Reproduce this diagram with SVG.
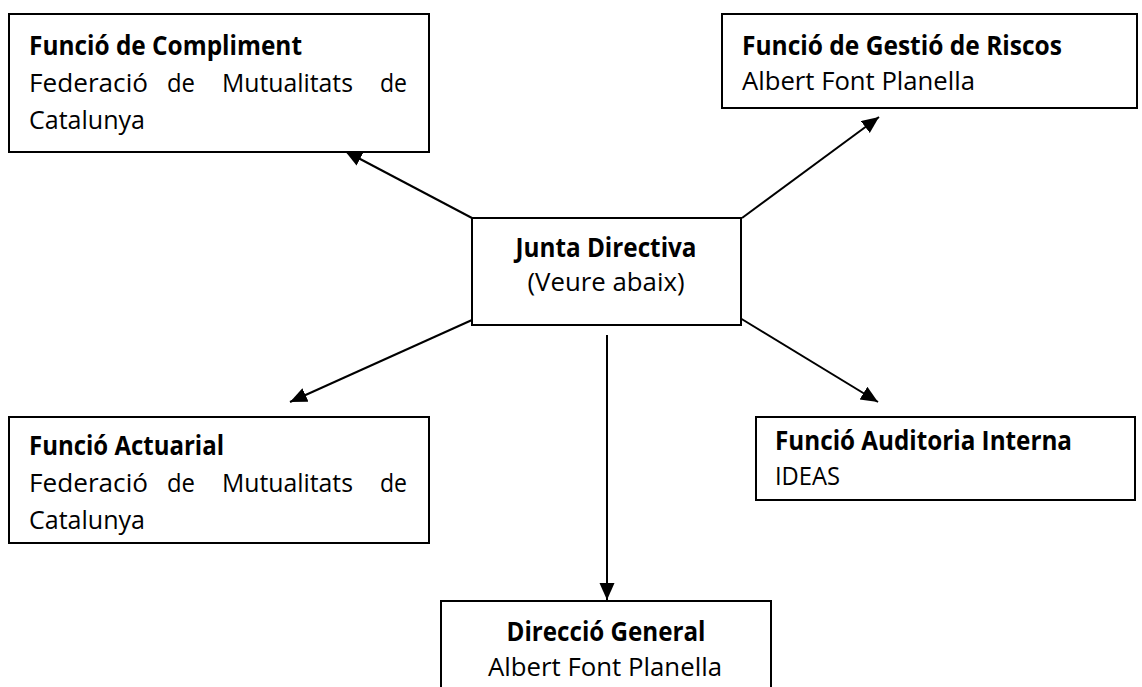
<svg xmlns="http://www.w3.org/2000/svg" width="1142" height="687" viewBox="0 0 1142 687">
<style>
.box{fill:#fff;stroke:#000;stroke-width:2}
.t{font-family:"Open Sans","Liberation Sans",sans-serif;font-size:26px;fill:#000}
.b{font-weight:bold}
.c{text-anchor:middle}
.con{stroke:#000;stroke-width:2;fill:none;marker-end:url(#ah)}
</style>
<defs>
<marker id="ah" markerUnits="userSpaceOnUse" markerWidth="18" markerHeight="16" refX="17" refY="7.5" orient="auto">
<path d="M0,0 L17,7.5 L0,15 z" fill="#000"/>
</marker>
</defs>
<rect width="1142" height="687" fill="#fff"/>
<g id="connectors">
<line class="con" x1="472" y1="218" x2="345" y2="151"/>
<line class="con" x1="742" y1="218" x2="879" y2="117"/>
<line class="con" x1="472" y1="320" x2="290" y2="402"/>
<line class="con" x1="740" y1="318" x2="878" y2="402"/>
<line class="con" x1="607" y1="335" x2="607" y2="600"/>
</g>
<g id="compliment">
<rect class="box" x="9" y="14" width="420" height="138"/>
<text class="t b" x="29" y="55" textLength="273" lengthAdjust="spacingAndGlyphs">Funció de Compliment</text>
<text class="t" y="92"><tspan x="29" textLength="119" lengthAdjust="spacingAndGlyphs">Federació</tspan><tspan x="167" textLength="28" lengthAdjust="spacingAndGlyphs">de</tspan><tspan x="222" textLength="131" lengthAdjust="spacingAndGlyphs">Mutualitats</tspan><tspan x="380" textLength="27" lengthAdjust="spacingAndGlyphs">de</tspan></text>
<text class="t" x="29" y="129" textLength="116" lengthAdjust="spacingAndGlyphs">Catalunya</text>
</g>
<g id="riscos">
<rect class="box" x="722" y="14" width="415" height="94"/>
<text class="t b" x="742" y="55" textLength="320" lengthAdjust="spacingAndGlyphs">Funció de Gestió de Riscos</text>
<text class="t" x="742" y="90" textLength="233" lengthAdjust="spacingAndGlyphs">Albert Font Planella</text>
</g>
<g id="junta">
<rect class="box" x="472" y="218" width="269" height="107"/>
<text class="t b c" x="606" y="257" textLength="181" lengthAdjust="spacingAndGlyphs">Junta Directiva</text>
<text class="t c" x="606" y="291" textLength="157" lengthAdjust="spacingAndGlyphs">(Veure abaix)</text>
</g>
<g id="actuarial">
<rect class="box" x="9" y="417" width="420" height="126"/>
<text class="t b" x="29" y="455" textLength="195" lengthAdjust="spacingAndGlyphs">Funció Actuarial</text>
<text class="t" y="492"><tspan x="29" textLength="119" lengthAdjust="spacingAndGlyphs">Federació</tspan><tspan x="167" textLength="28" lengthAdjust="spacingAndGlyphs">de</tspan><tspan x="222" textLength="131" lengthAdjust="spacingAndGlyphs">Mutualitats</tspan><tspan x="380" textLength="27" lengthAdjust="spacingAndGlyphs">de</tspan></text>
<text class="t" x="29" y="529" textLength="116" lengthAdjust="spacingAndGlyphs">Catalunya</text>
</g>
<g id="auditoria">
<rect class="box" x="756" y="417" width="379" height="83"/>
<text class="t b" x="775" y="450" textLength="297" lengthAdjust="spacingAndGlyphs">Funció Auditoria Interna</text>
<text class="t" x="775" y="485" textLength="65" lengthAdjust="spacingAndGlyphs">IDEAS</text>
</g>
<g id="direccio">
<rect class="box" x="441" y="601" width="330" height="120"/>
<text class="t b c" x="606" y="641" textLength="199" lengthAdjust="spacingAndGlyphs">Direcció General</text>
<text class="t c" x="605" y="676" textLength="234" lengthAdjust="spacingAndGlyphs">Albert Font Planella</text>
</g>
</svg>
